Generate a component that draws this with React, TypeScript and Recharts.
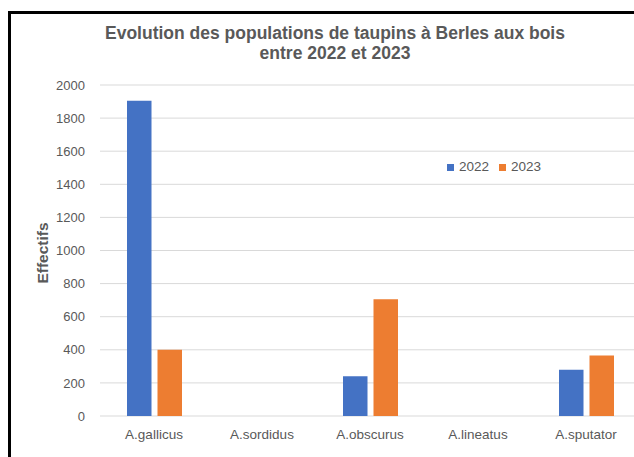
import { Bar, BarChart, CartesianGrid, XAxis, YAxis } from "recharts"

const species = ["A.gallicus", "A.sordidus", "A.obscurus", "A.lineatus", "A.sputator"]
const values2022 = [1905, 0, 240, 0, 280]
const values2023 = [400, 0, 705, 0, 365]
const yTicks = [0, 200, 400, 600, 800, 1000, 1200, 1400, 1600, 1800, 2000]

const data = species.map((name, i) => ({
  name,
  y2022: values2022[i],
  y2023: values2023[i],
}))

const textColor = "#595959"
const font = "'Liberation Sans', Arial, sans-serif"
const blue = "#4472c4"
const orange = "#ed7d31"

const legendItems = [
  { label: "2022", color: blue },
  { label: "2023", color: orange },
]

export default function App() {
  return (
    <div
      style={{
        position: "fixed",
        left: 0,
        top: 0,
        width: 634,
        height: 457,
        overflow: "hidden",
        background: "#fff",
        fontFamily: font,
      }}
    >
      <div style={{ position: "absolute", left: 8, top: 11, width: 640, height: 3, background: "#000" }} />
      <div style={{ position: "absolute", left: 8, top: 11, width: 3, height: 460, background: "#000" }} />

      <div
        style={{
          position: "absolute",
          left: 35,
          width: 600,
          top: 23,
          textAlign: "center",
          color: textColor,
          fontWeight: "bold",
          fontSize: 17.5,
          lineHeight: "20px",
        }}
      >
        Evolution des populations de taupins à Berles aux bois
        <br />
        entre 2022 et 2023
      </div>

      <div
        style={{
          position: "absolute",
          left: 43,
          top: 253,
          transform: "translate(-50%, -50%) rotate(-90deg)",
          color: textColor,
          fontWeight: "bold",
          fontSize: 15.5,
          whiteSpace: "nowrap",
        }}
      >
        Effectifs
      </div>

      <div style={{ position: "absolute", left: 0, top: 0 }}>
        <BarChart
          width={640}
          height={457}
          data={data}
          margin={{ top: 85, right: 0, bottom: 11, left: 0 }}
          barGap={6}
          barSize={24.5}
        >
          <CartesianGrid vertical={false} stroke="#d9d9d9" />
          <XAxis
            dataKey="name"
            axisLine={false}
            tickLine={false}
            tickSize={0}
            tickMargin={13}
            height={30}
            tick={{ fill: textColor, fontSize: 13.5, fontFamily: font }}
          />
          <YAxis
            width={100}
            domain={[0, 2000]}
            ticks={yTicks}
            axisLine={false}
            tickLine={false}
            tickSize={0}
            tickMargin={15}
            tick={{ fill: textColor, fontSize: 13, fontFamily: font }}
          />
          <Bar dataKey="y2022" name="2022" fill={blue} isAnimationActive={false} />
          <Bar dataKey="y2023" name="2023" fill={orange} isAnimationActive={false} />
        </BarChart>
      </div>

      <div
        style={{
          position: "absolute",
          left: 447,
          top: 159,
          display: "flex",
          alignItems: "center",
          fontSize: 13.5,
          lineHeight: "16px",
          color: textColor,
        }}
      >
        {legendItems.map((item) => (
          <span key={item.label} style={{ display: "flex", alignItems: "center", marginRight: 10 }}>
            <span style={{ width: 7, height: 7, background: item.color, marginRight: 5 }} />
            {item.label}
          </span>
        ))}
      </div>
    </div>
  )
}
